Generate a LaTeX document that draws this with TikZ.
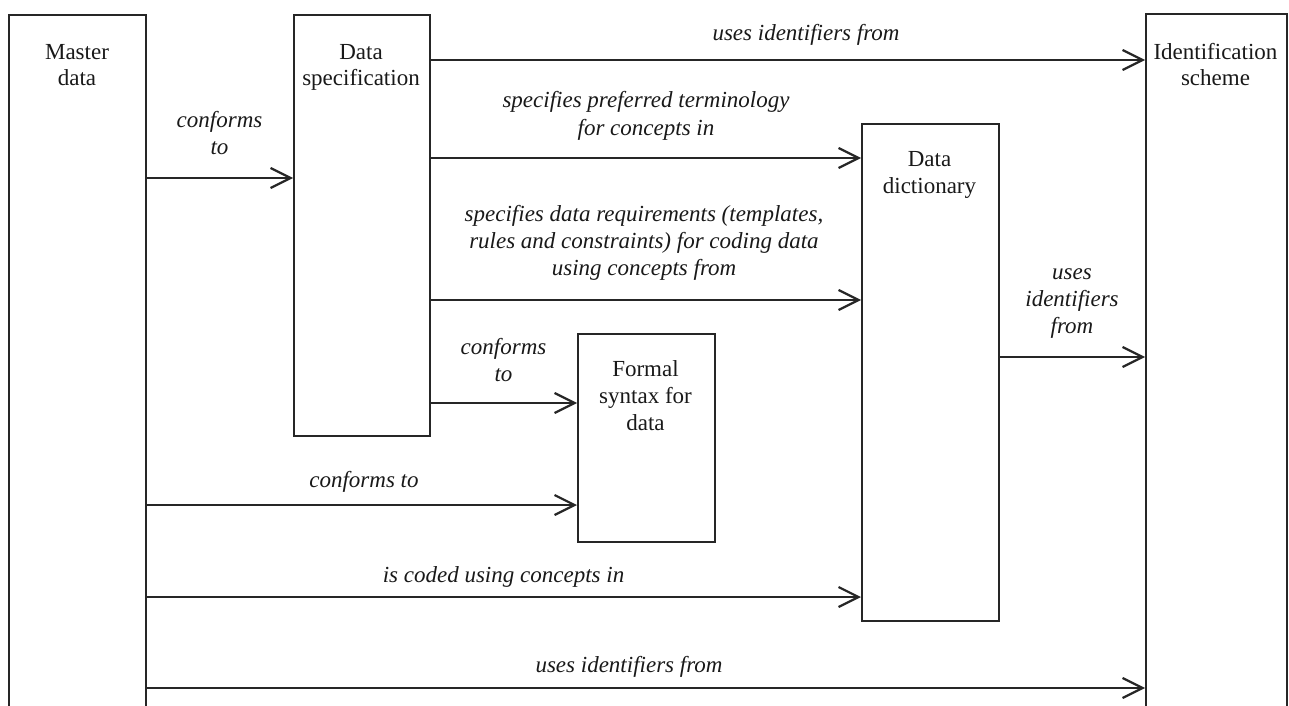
\documentclass[tikz,border=0pt]{standalone}
\usepackage{fontspec}
\setmainfont{Liberation Serif}
\usetikzlibrary{arrows.meta,positioning}

\begin{document}
\begin{tikzpicture}[x=0.5pt,y=-0.5pt,
    box/.style={draw=black!85,line width=1pt,inner sep=0pt,anchor=north west},
    title/.style={anchor=base,align=center,inner sep=0pt,text=black!90,font=\fontsize{11.5}{13.4}\selectfont},
    rel/.style={anchor=base,align=center,inner sep=0pt,text=black!90,font=\fontsize{11.5}{13.5}\selectfont\itshape},
    arr/.style={-{Straight Barb[length=10pt,width=10pt,line width=1.1pt]},line width=1.1pt,draw=black!85}]
    \useasboundingbox (0,0) rectangle (1289,706);
    \clip (0,0) rectangle (1289,706);
    % boxes
    \node[box,minimum width=68.5pt,minimum height=353pt] (md) at (8,14) {};
    \node[box,minimum width=68pt,minimum height=210.5pt] (ds) at (293,14) {};
    \node[box,minimum width=70.5pt,minimum height=353pt] (is) at (1145,13) {};
    \node[box,minimum width=68.5pt,minimum height=248.5pt] (dd) at (861,123) {};
    \node[box,minimum width=68.5pt,minimum height=104pt] (fs) at (577,333) {};
    \node[title] (mdt) at (77,86) {Master\\data};
    \node[title] (dst) at (361,86) {Data\\specification};
    \node[title] (ist) at (1215.5,86) {Identification\\scheme};
    \node[title] (ddt) at (929.5,193) {Data\\dictionary};
    \node[title] (fst) at (645.5,430) {Formal\\syntax for\\data};
    % relations
    \draw[arr] (ds.east |- 0,60) -- (is.west |- 0,60);
    \node[rel] (l1) at (806,41) {uses identifiers from};
    \draw[arr] (ds.east |- 0,158) -- (dd.west |- 0,158);
    \node[rel] (l2) at (646,135) {specifies preferred terminology\\for concepts in};
    \draw[arr] (ds.east |- 0,300) -- (dd.west |- 0,300);
    \node[rel] (l3) at (644,275) {specifies data requirements (templates,\\rules and constraints) for coding data\\using concepts from};
    \draw[arr] (ds.east |- 0,403) -- (fs.west |- 0,403);
    \node[rel] (l4) at (503.5,381) {conforms\\to};
    \draw[arr] (md.east |- 0,178) -- (ds.west |- 0,178);
    \node[rel] (l5) at (219.5,155) {conforms\\to};
    \draw[arr] (md.east |- 0,505) -- (fs.west |- 0,505);
    \node[rel] (l6) at (364,487) {conforms to};
    \draw[arr] (md.east |- 0,597) -- (dd.west |- 0,597);
    \node[rel] (l7) at (503.5,582) {is coded using concepts in};
    \draw[arr] (md.east |- 0,688) -- (is.west |- 0,688);
    \node[rel] (l8) at (629,672) {uses identifiers from};
    \draw[arr] (dd.east |- 0,357) -- (is.west |- 0,357);
    \node[rel] (l9) at (1072,333) {uses\\identifiers\\from};
\end{tikzpicture}
\end{document}
